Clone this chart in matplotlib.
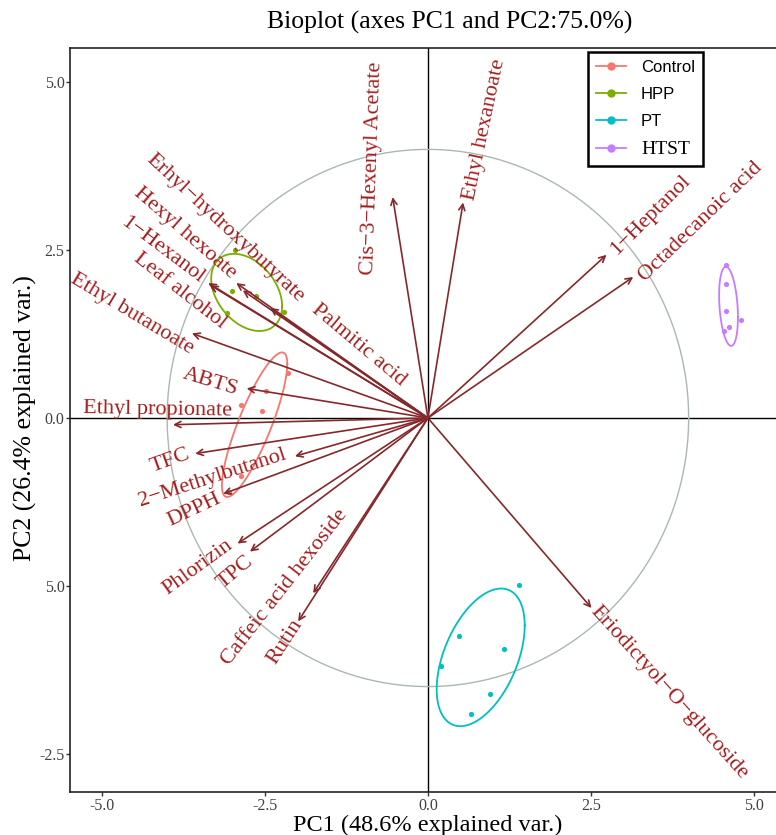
import numpy as np
import matplotlib
matplotlib.use("Agg")
import matplotlib.pyplot as plt
from matplotlib.lines import Line2D

# ---- data ----
var_names = ["Cis\u22123\u2212Hexenyl Acetate", "Ethyl hexanoate", "1\u2212Heptanol",
             "Octadecanoic acid", "Eriodictyol\u2212O\u2212glucoside", "Rutin",
             "Caffeic acid hexoside", "TPC", "Phlorizin", "DPPH", "2\u2212Methylbutanol",
             "TFC", "Ethyl propionate", "ABTS", "Ethyl butanoate", "Leaf alcohol",
             "1\u2212Hexanol", "Hexyl hexoate", "Erhyl\u2212hydroxybutyrate", "Palmitic acid"]
load_pc1 = [-0.54, 0.54, 2.74, 3.15, 2.51, -1.99, -1.76, -2.73, -2.92, -3.14, -2.04,
            -3.57, -3.91, -2.78, -3.62, -3.34, -3.37, -2.94, -2.84, -2.42]
load_pc2 = [3.29, 3.21, 2.43, 2.10, -2.83, -3.03, -2.61, -1.99, -1.87, -1.13, -0.57,
            -0.53, -0.10, 0.44, 1.26, 1.98, 2.01, 2.01, 1.90, 1.64]

groups = ["Control", "HPP", "PT", "HTST"]
control_pc1 = [-2.14, -2.48, -2.87, -2.55, -2.86, -3.05]
control_pc2 = [0.67, 0.40, 0.19, 0.10, -0.86, -1.10]
hpp_pc1 = [-2.96, -3.01, -2.64, -3.08, -2.21]
hpp_pc2 = [2.50, 1.89, 1.82, 1.56, 1.58]
pt_pc1 = [1.40, 0.48, 1.17, 0.20, 0.95, 0.66]
pt_pc2 = [-2.49, -3.24, -3.44, -3.70, -4.11, -4.41]
htst_pc1 = [4.57, 4.57, 4.57, 4.80, 4.62, 4.54]
htst_pc2 = [2.28, 1.99, 1.60, 1.46, 1.35, 1.30]

xticks = [-5.0, -2.5, 0.0, 2.5, 5.0]
xtick_labels = ["-5.0", "-2.5", "0.0", "2.5", "5.0"]
yticks = [5.0, 2.5, 0.0, -2.5, -5.0]
ytick_labels = ["5.0", "2.5", "0.0", "5.0", "-2.5"]   # as printed on the original

# label placement (centre x, centre y, rotation) -- layout only
label_layout = [(-0.86, 3.72, 88), (0.87, 4.29, 78), (3.42, 3.02, 45), (4.19, 2.92, 44),
                (3.70, -4.09, -48), (-2.19, -3.33, 57), (-2.19, -2.53, 52), (-2.95, -2.30, 40),
                (-3.53, -2.23, 36), (-3.58, -1.37, 25), (-3.30, -0.89, 18), (-3.96, -0.64, 20),
                (-4.14, 0.12, -1), (-3.33, 0.54, -17), (-4.54, 1.55, -31), (-3.80, 1.89, -38),
                (-4.08, 2.50, -37), (-3.73, 2.75, -41), (-3.11, 2.83, -43), (-1.07, 1.09, -40)]

colors = {"Control": "#F8766D", "HPP": "#7CAE00", "PT": "#00BFC4", "HTST": "#C77CFF"}
ARROW = "#86282B"
LABEL = "#A51D1D"
SERIF = "Liberation Serif"

W, H = 776, 835
fig = plt.figure(figsize=(W / 100, H / 100), dpi=100)
ax = fig.add_axes([70 / W, 43 / H, 706 / W, 744 / H])
ax.set_xlim(-5.49, 5.34)
ax.set_ylim(-5.57, 5.51)

ax.axhline(0, color="black", lw=1.0, zorder=1)
ax.axvline(0, color="black", lw=1.0, zorder=1)

# correlation circle
t = np.linspace(0, 2 * np.pi, 400)
ax.plot(4 * np.cos(t), 4 * np.sin(t), color="#AAB8B0", lw=1.0, zorder=1)

# group points + 68% normal ellipses
ed = np.sqrt(-2 * np.log(1 - 0.68))
pts = {"Control": (control_pc1, control_pc2), "HPP": (hpp_pc1, hpp_pc2),
       "PT": (pt_pc1, pt_pc2), "HTST": (htst_pc1, htst_pc2)}
circ = np.column_stack([np.cos(t), np.sin(t)])
for g in groups:
    x, y = np.array(pts[g][0]), np.array(pts[g][1])
    sigma = np.cov(x, y)
    chol = np.linalg.cholesky(sigma).T
    ell = circ @ chol * ed + np.array([x.mean(), y.mean()])
    ax.plot(ell[:, 0], ell[:, 1], color=colors[g], lw=1.3, zorder=2)
    ax.scatter(x, y, s=14, color=colors[g], zorder=3, linewidths=0)

# loading arrows and labels
for name, lx, ly, (tx, ty, rot) in zip(var_names, load_pc1, load_pc2, label_layout):
    ax.annotate("", xy=(lx, ly), xytext=(0, 0),
                arrowprops=dict(arrowstyle="->", color=ARROW, lw=1.2,
                                shrinkA=0, shrinkB=0, mutation_scale=11), zorder=4)
    ax.text(tx, ty, name, rotation=rot, rotation_mode="anchor", ha="center", va="center",
            color=LABEL, fontsize=16, family=SERIF, zorder=5)

# axes styling
ax.spines["right"].set_visible(False)
for s in ["left", "bottom", "top"]:
    ax.spines[s].set_linewidth(1.2)
    ax.spines[s].set_color("#222222")
ax.set_xticks(xticks)
ax.set_xticklabels(xtick_labels)
ax.set_yticks(yticks)
ax.set_yticklabels(ytick_labels)
ax.tick_params(length=3, width=1, color="#333333", labelsize=11.5, labelcolor="#404040", pad=1)
for lab in ax.get_xticklabels() + ax.get_yticklabels():
    lab.set_family(SERIF)

fig.text(428 / W, 1 - 825 / H, "PC1 (48.6% explained var.)", fontsize=17.5,
         family=SERIF, ha="center", va="center")
fig.text(25 / W, 1 - 418 / H, "PC2 (26.4% explained var.)", fontsize=18.5,
         family=SERIF, ha="center", va="center", rotation=90)
fig.text(450 / W, 1 - 22 / H, "Bioplot (axes PC1 and PC2:75.0%)", fontsize=18.5,
         family=SERIF, ha="center", va="center")

handles = [Line2D([0], [0], color=colors[g], marker="o", markersize=5, lw=1.3) for g in groups]
leg = ax.legend(handles, groups, loc="upper right", bbox_to_anchor=(0.897, 0.995),
                borderaxespad=0, fancybox=False, edgecolor="black", framealpha=1,
                prop={"family": "Liberation Sans", "size": 12},
                handlelength=1.8, handletextpad=0.9, labelspacing=0.72, borderpad=0.5)
leg.get_frame().set_linewidth(1.8)
leg.get_texts()[3].set_family(SERIF)
leg.get_texts()[3].set_fontsize(14)

fig.savefig("out.png", dpi=100)
